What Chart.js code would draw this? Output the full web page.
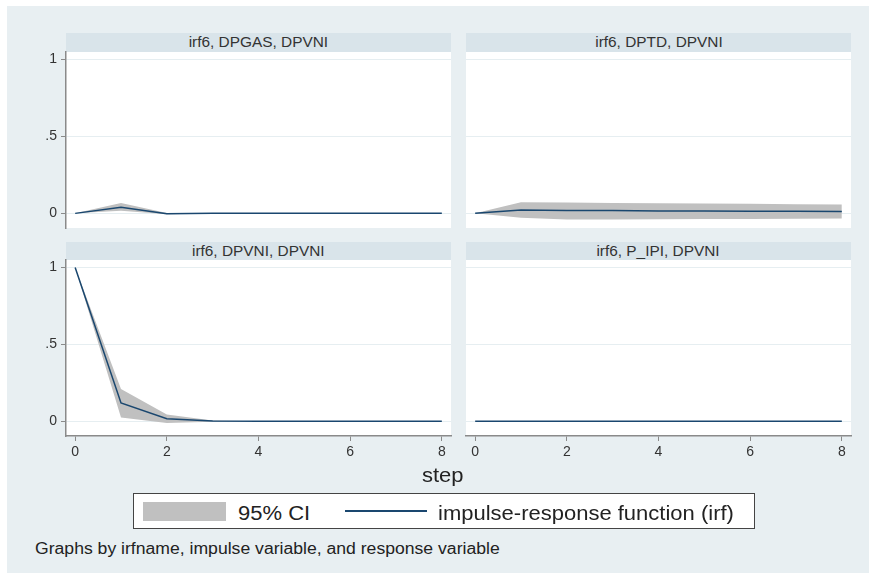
<!DOCTYPE html>
<html>
<head>
<meta charset="utf-8">
<script src="https://cdn.jsdelivr.net/npm/chart.js@4.4.1/dist/chart.umd.min.js"></script>
<style>
  body { margin: 0; width: 869px; height: 573px; background: #fff; position: relative; overflow: hidden;
         font-family: 'Liberation Sans', Arial, sans-serif; color: #222; }
  .abs { position: absolute; }
  #region { left: 7px; top: 6px; width: 862px; height: 567px; background: #e8eff2; }
  .strip { background: #d9e4ea; text-align: center; font-size: 14px; color: #333; }
  .strip span { display: inline-block; transform: scaleX(1.1); }
  canvas { position: absolute; }
  .txt { white-space: nowrap; transform-origin: left center; transform: scaleX(1.1); }
  #legend { left: 133px; top: 493px; width: 622px; height: 36px; box-sizing: border-box; border: 1px solid #444; background: #fff; }
</style>
</head>
<body>
<div id="region" class="abs"></div>

<div class="abs strip" style="left:66px;top:33px;width:385px;height:19px;line-height:19px"><span id="t0"></span></div>
<div class="abs strip" style="left:466px;top:33px;width:385px;height:19px;line-height:19px"><span id="t1"></span></div>
<div class="abs strip" style="left:66px;top:242px;width:385px;height:18px;line-height:18px"><span id="t2"></span></div>
<div class="abs strip" style="left:466px;top:242px;width:385px;height:18px;line-height:18px"><span id="t3"></span></div>

<canvas id="c0" width="441" height="196" style="left:20px;top:42px"></canvas>
<canvas id="c1" width="405" height="196" style="left:456px;top:42px"></canvas>
<canvas id="c2" width="441" height="216" style="left:20px;top:250px"></canvas>
<canvas id="c3" width="405" height="216" style="left:456px;top:250px"></canvas>

<div class="abs txt" style="left:422px;top:462px;height:26px;line-height:26px;font-size:20px;color:#222">step</div>

<div id="legend" class="abs"></div>
<div class="abs" style="left:143px;top:502px;width:83px;height:19px;background:#c0c0c0"></div>
<div class="abs txt" style="left:238px;top:500px;height:26px;line-height:26px;font-size:20px">95% CI</div>
<div class="abs" style="left:345px;top:510px;width:82px;height:1.5px;background:#1a476f"></div>
<div class="abs txt" style="left:438px;top:500px;height:26px;line-height:26px;font-size:20px">impulse-response function (irf)</div>

<div class="abs txt" style="left:35px;top:538px;height:21px;line-height:21px;font-size:16px">Graphs by irfname, impulse variable, and response variable</div>

<script>
const steps = [0, 1, 2, 3, 4, 5, 6, 7, 8];
const xTicks = [0, 2, 4, 6, 8];
const yTicks = [0, 0.5, 1];
const yTickLabels = ['0', '.5', '1'];
const titles = ['irf6, DPGAS, DPVNI', 'irf6, DPTD, DPVNI', 'irf6, DPVNI, DPVNI', 'irf6, P_IPI, DPVNI'];

// DPGAS -> DPVNI
const irfGas = [0, 0.04, -0.002, 0.001, 0, 0, 0, 0, 0];
const hiGas  = [0, 0.068, 0.003, 0.002, 0.001, 0, 0, 0, 0];
const loGas  = [0, 0.017, -0.006, -0.001, 0, 0, 0, 0, 0];
// DPTD -> DPVNI
const irfTd = [0, 0.022, 0.019, 0.018, 0.016, 0.015, 0.014, 0.013, 0.012];
const hiTd  = [0, 0.072, 0.07, 0.068, 0.066, 0.064, 0.062, 0.06, 0.058];
const loTd  = [0, -0.028, -0.04, -0.039, -0.038, -0.037, -0.036, -0.035, -0.034];
// DPVNI -> DPVNI
const irfVni = [1, 0.12, 0.017, 0.002, 0, 0, 0, 0, 0];
const hiVni  = [1, 0.21, 0.045, 0.006, 0.001, 0, 0, 0, 0];
const loVni  = [1, 0.025, -0.01, -0.002, 0, 0, 0, 0, 0];
// P_IPI -> DPVNI
const irfIpi = [0, 0, 0, 0, 0, 0, 0, 0, 0];
const hiIpi  = [0, 0, 0, 0, 0, 0, 0, 0, 0];
const loIpi  = [0, 0, 0, 0, 0, 0, 0, 0, 0];

const NAVY = '#1a476f';
const CI = '#c0c0c0';
const AXIS = '#8a8a8a';
const GRID = '#e6eef1';
const FONT = { family: "'Liberation Sans', Arial, sans-serif", size: 14 };

titles.forEach((t, i) => { document.getElementById('t' + i).textContent = t; });

const plotBg = {
  id: 'plotBg',
  beforeDraw(chart) {
    const { ctx, chartArea: a } = chart;
    ctx.save();
    ctx.fillStyle = '#fff';
    ctx.fillRect(a.left, a.top, a.right - a.left, a.bottom - a.top);
    ctx.restore();
  }
};

function pts(vals) { return vals.map((v, i) => ({ x: steps[i], y: v })); }

const panels = [
  { id: 'c0', irf: irfGas, hi: hiGas, lo: loGas, left: true,  bottom: false },
  { id: 'c1', irf: irfTd,  hi: hiTd,  lo: loTd,  left: false, bottom: false },
  { id: 'c2', irf: irfVni, hi: hiVni, lo: loVni, left: true,  bottom: true },
  { id: 'c3', irf: irfIpi, hi: hiIpi, lo: loIpi, left: false, bottom: true },
];

panels.forEach(p => {
  new Chart(document.getElementById(p.id), {
    type: 'line',
    data: {
      datasets: [
        { label: 'irf', data: pts(p.irf), borderColor: NAVY, borderWidth: 1.5, pointRadius: 0, fill: false, order: 0 },
        { label: 'hi', data: pts(p.hi), borderColor: 'rgba(0,0,0,0)', backgroundColor: CI, pointRadius: 0, fill: '+1', order: 1 },
        { label: 'lo', data: pts(p.lo), borderColor: 'rgba(0,0,0,0)', pointRadius: 0, fill: false, order: 2 },
      ]
    },
    options: {
      responsive: false,
      animation: false,
      events: [],
      layout: { padding: { top: 10, bottom: p.bottom ? 0 : 10, left: p.left ? 0 : 10, right: 10 } },
      plugins: { legend: { display: false }, tooltip: { enabled: false } },
      scales: {
        x: {
          type: 'linear', min: -0.2, max: 8.2,
          display: p.bottom,
          afterBuildTicks: s => { s.ticks = xTicks.map(v => ({ value: v })); },
          afterFit: s => { s.height = p.bottom ? 30 : 0; s.paddingLeft = 0; s.paddingRight = 0; },
          grid: { drawOnChartArea: false, tickLength: 5, tickColor: AXIS },
          border: { color: AXIS, width: 1.5 },
          ticks: { font: FONT, color: '#333', padding: 3, maxRotation: 0 }
        },
        y: {
          type: 'linear', min: -0.095, max: 1.048,
          afterBuildTicks: s => { s.ticks = yTicks.map(v => ({ value: v })); },
          afterFit: s => { s.width = p.left ? 46 : 0; s.paddingTop = 0; s.paddingBottom = 0; },
          grid: { color: GRID, lineWidth: 1, drawTicks: p.left, tickLength: 5, tickColor: AXIS },
          border: { display: p.left, color: AXIS, width: 1.5 },
          ticks: {
            display: p.left, font: FONT, color: '#333', padding: 4,
            callback: v => yTickLabels[yTicks.indexOf(v)]
          }
        }
      }
    },
    plugins: [plotBg]
  });
});
</script>
</body>
</html>
